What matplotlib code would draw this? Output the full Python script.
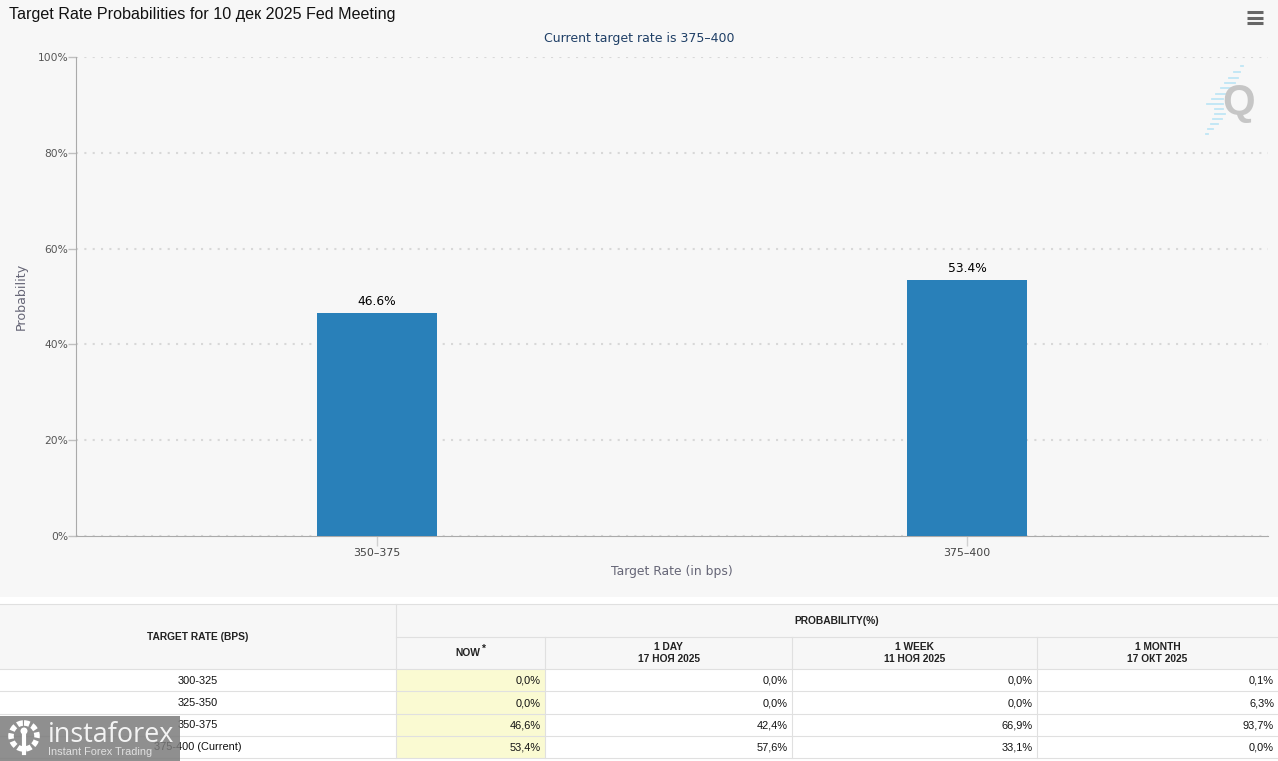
import matplotlib
matplotlib.use('Agg')
import matplotlib.pyplot as plt
from matplotlib.patches import Rectangle, Circle

W, H = 1278, 761

rates = ['350-375', '375-400']
probs = [46.6, 53.4]
y_ticks = [0, 20, 40, 60, 80, 100]

table_rates = ['300-325', '325-350', '350-375', '375-400 (Current)']
now_vals = ['0,0%', '0,0%', '46,6%', '53,4%']
day_vals = ['0,0%', '0,0%', '42,4%', '57,6%']
week_vals = ['0,0%', '0,0%', '66,9%', '33,1%']
month_vals = ['0,1%', '6,3%', '93,7%', '0,0%']
col_heads = ['1 DAY\n17 НОЯ 2025', '1 WEEK\n11 НОЯ 2025', '1 MONTH\n17 ОКТ 2025']


def px(size):
    # sizes below are in screen pixels
    return size * 0.72


fig = plt.figure(figsize=(W / 100, H / 100), dpi=100, facecolor='white')
page = fig.add_axes([0, 0, 1, 1], zorder=0)
page.set_xlim(0, W)
page.set_ylim(H, 0)
page.axis('off')
page.add_patch(Rectangle((0, 0), W, 597, fc='#f7f7f7', ec='none'))

# Chart
ax = fig.add_axes([76 / W, 1 - 536 / H, (1268 - 76) / W, (536 - 57) / H], zorder=1)
ax.patch.set_visible(False)
ax.bar(range(len(rates)), probs, width=120 / 590, color='#2980b9', zorder=3)
ax.set_xlim(-(377 - 76) / 590, (1268 - 377) / 590)
ax.set_ylim(0, 100)
for i, p in enumerate(probs):
    ax.annotate(f'{p}%', (i, p), xytext=(0, 5), textcoords='offset pixels',
                ha='center', va='bottom', fontsize=px(12.2), color='black')
for s in ['top', 'right']:
    ax.spines[s].set_visible(False)
ax.spines['left'].set_color('#aaaaaa')
ax.spines['bottom'].set_color('#aaaaaa')
ax.set_yticks(y_ticks)
ax.set_yticklabels([f'{v}%' for v in y_ticks])
ax.set_xticks(range(len(rates)))
ax.set_xticklabels([r.replace('-', '–') for r in rates])
ax.tick_params(axis='y', length=5.5, width=1, color='#c0c0c0', labelsize=px(10.6), labelcolor='#555555', pad=0)
ax.tick_params(axis='x', length=7, width=1, color='#d0d0d0', labelsize=px(11), labelcolor='#444444', pad=2)
ax.grid(axis='y', color='#d8d8d8', linestyle=(0, (1, 3)), linewidth=1.5, zorder=0)
ax.set_axisbelow(True)

page.text(9, 15, 'Target Rate Probabilities for 10 дек 2025 Fed Meeting', family='Liberation Sans',
          fontsize=px(16.1), color='#111111', va='center', ha='left')
page.text(639, 38.5, 'Current target rate is 375–400', fontsize=px(12.5), color='#1f3f66', ha='center', va='center')
page.text(672, 571, 'Target Rate (in bps)', fontsize=px(12.4), color='#666677', ha='center', va='center')
page.text(21, 296, 'Probability', fontsize=px(12.6), color='#666677', ha='center', va='center', rotation=90)

# Menu icon
for y in [12, 17.5, 23]:
    page.plot([1247, 1263], [y, y], color='#666666', lw=2.2, solid_capstyle='butt')

# Q logo
page.text(1239, 103, 'Q', family='Liberation Sans', fontweight='bold', fontsize=px(42), color='#c6c6c6',
          ha='center', va='center', zorder=2)
streaks = [(1241, 66, 2), (1234, 72, 6), (1229, 78, 9), (1225, 83, 10), (1221, 88, 9), (1216, 94, 9),
           (1212, 99, 11), (1207, 104, 16), (1215, 109, 8), (1215, 114, 10), (1213, 119, 9),
           (1211, 124, 7), (1208, 129, 5), (1206, 134, 2)]
for x, y, n in streaks:
    page.plot([x, x + n], [y, y], color='#bfe6f5', lw=1.3, zorder=1)

# Table
col_x = [0, 396, 545, 792, 1037, W]
row_y = [604, 636.5, 669, 691, 714, 736, 758]
page.add_patch(Rectangle((0, row_y[0]), W, row_y[2] - row_y[0], fc='#f7f7f7', ec='none'))
page.add_patch(Rectangle((col_x[1], row_y[2]), col_x[2] - col_x[1], row_y[6] - row_y[2], fc='#fafad2', ec='none'))
line = '#e0e0e0'
for y in row_y:
    x0 = col_x[1] if y == row_y[1] else 0
    page.plot([x0, W], [y, y], color=line, lw=0.8)
for x in col_x[1:5]:
    y0 = row_y[0] if x == col_x[1] else row_y[1]
    page.plot([x, x], [y0, row_y[6]], color=line, lw=0.8)

hdr = dict(family='Liberation Sans', fontweight='bold', fontsize=px(10.2), color='#222222',
           ha='center', va='center')
cell = dict(family='Liberation Sans', fontsize=px(11), color='#111111', va='center')
page.text(198, 636.5, 'TARGET RATE (BPS)', **hdr)
page.text(837, 620.5, 'PROBABILITY(%)', **hdr)
page.text(468, 652.5, 'NOW', **hdr)
page.text(484, 649, '*', **hdr)
for j, head in enumerate(col_heads):
    page.text((col_x[j + 2] + col_x[j + 3]) / 2, 653, head, linespacing=1.15, **hdr)
for i, rate in enumerate(table_rates):
    yc = (row_y[i + 2] + row_y[i + 3]) / 2 + 0.5
    page.text(198, yc, rate, ha='center', **cell)
    for j, vals in enumerate([now_vals, day_vals, week_vals, month_vals]):
        page.text(col_x[j + 2] - 4, yc, vals[i], ha='right', **cell)

# Watermark
page.add_patch(Rectangle((0, 716), 180, 45, fc='#7b7b7b', ec='none', alpha=0.85, zorder=5))
page.add_patch(Circle((24, 736), 13, fc='none', ec='white', lw=4, ls=(0, (1, 0.5)), zorder=6))
page.add_patch(Circle((24, 731), 3.5, fc='white', ec='none', zorder=6))
page.plot([24, 24], [734, 753], color='white', lw=3, zorder=6)
page.text(48, 735, 'instaforex', family='Open Sans', fontsize=px(27), color='white', alpha=0.9,
          ha='left', va='center', zorder=6)
page.text(48, 752, 'Instant Forex Trading', family='Liberation Sans', fontsize=px(11), color='#e0e0e0',
          ha='left', va='center', zorder=6)

fig.savefig('out.png', dpi=100)
